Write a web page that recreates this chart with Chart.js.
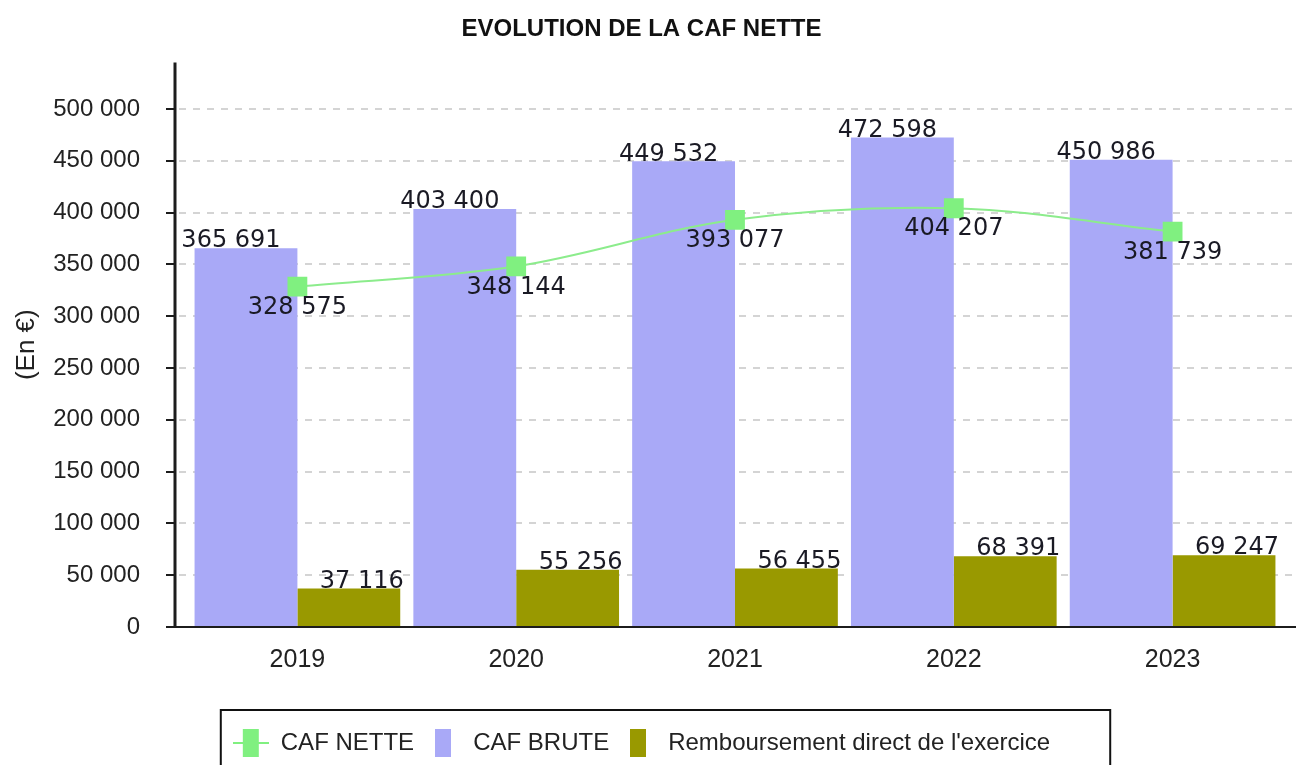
<!DOCTYPE html>
<html lang="fr">
<head>
<meta charset="UTF-8">
<title>Evolution de la CAF nette</title>
<script src="https://cdn.jsdelivr.net/npm/chart.js"></script>
<style>
  html, body { margin: 0; padding: 0; background: #fff; }
  #zone { width: 1296px; height: 765px; }
</style>
</head>
<body>
<div id="zone"><canvas id="graphique"></canvas></div>
<script>
// années (catégories)
const annees = ['2019', '2020', '2021', '2022', '2023'];
// CAF nette (courbe)
const cafNette = [328575, 348144, 393077, 404207, 381739];
// CAF brute (barres)
const cafBrute = [365691, 403400, 449532, 472598, 450986];
// remboursement direct de l'exercice (barres)
const remboursement = [37116, 55256, 56455, 68391, 69247];
// graduations de l'axe vertical
const graduations = [0, 50000, 100000, 150000, 200000, 250000, 300000, 350000, 400000, 450000, 500000];

const VERT = '#80f080';
const LAVANDE = '#a9a9f7';
const OLIVE = '#999900';

function formater(v) {
    return String(v).replace(/\B(?=(\d{3})+(?!\d))/g, ' ');
}

// petites images pour la légende
function icone(larg, haut, dessin) {
    const c = document.createElement('canvas');
    c.width = larg;
    c.height = haut;
    dessin(c.getContext('2d'));
    return c;
}
const icones = [
    icone(36, 28, function (g) {
        g.strokeStyle = VERT; g.lineWidth = 2;
        g.beginPath(); g.moveTo(0, 14); g.lineTo(36, 14); g.stroke();
        g.fillStyle = VERT; g.fillRect(10, 0, 16, 28);
    }),
    icone(16, 28, function (g) { g.fillStyle = LAVANDE; g.fillRect(0, 0, 16, 28); }),
    icone(16, 28, function (g) { g.fillStyle = OLIVE; g.fillRect(0, 0, 16, 28); })
];

// axes, graduations et grille pointillée
const axesEtGrille = {
    id: 'axesEtGrille',
    beforeDatasetsDraw(chart) {
        const { ctx, chartArea, scales: { y } } = chart;
        const x0 = chartArea.left - 13;
        ctx.save();
        ctx.strokeStyle = '#c6c6c6';
        ctx.lineWidth = 1.5;
        ctx.setLineDash([7, 7]);
        y.ticks.forEach(function (t) {
            if (t.value === 0) return;
            const py = Math.round(y.getPixelForValue(t.value));
            ctx.beginPath();
            ctx.moveTo(x0 + 4, py);
            ctx.lineTo(chart.width, py);
            ctx.stroke();
        });
        ctx.restore();
    },
    afterDatasetsDraw(chart) {
        const { ctx, chartArea, scales: { y } } = chart;
        const x0 = chartArea.left - 13;
        ctx.save();
        ctx.strokeStyle = '#1c1c1c';
        ctx.lineWidth = 2;
        y.ticks.forEach(function (t) {
            const py = Math.round(y.getPixelForValue(t.value));
            ctx.beginPath();
            ctx.moveTo(x0 - 9, py);
            ctx.lineTo(x0, py);
            ctx.stroke();
        });
        ctx.beginPath();
        ctx.moveTo(x0 - 9, chartArea.bottom);
        ctx.lineTo(chart.width, chartArea.bottom);
        ctx.stroke();
        ctx.lineWidth = 3;
        ctx.beginPath();
        ctx.moveTo(x0, chartArea.top);
        ctx.lineTo(x0, chartArea.bottom);
        ctx.stroke();
        ctx.restore();
    }
};

// étiquettes de valeurs
const etiquettes = {
    id: 'etiquettes',
    afterDatasetsDraw(chart) {
        const ctx = chart.ctx;
        ctx.save();
        ctx.font = '24px "DejaVu Sans"';
        ctx.fillStyle = '#1a1a24';
        ctx.textAlign = 'center';
        chart.data.datasets.forEach(function (ds, i) {
            const meta = chart.getDatasetMeta(i);
            meta.data.forEach(function (el, j) {
                const txt = formater(ds.data[j]);
                if (ds.type === 'line') {
                    ctx.textBaseline = 'top';
                    ctx.fillText(txt, el.x, el.y + 9);
                } else {
                    ctx.textBaseline = 'bottom';
                    const dx = i === 1 ? -15 : 13;
                    ctx.fillText(txt, el.x + dx, el.y + 5);
                }
            });
        });
        ctx.restore();
    }
};

// cadre autour de la légende
const cadreLegende = {
    id: 'cadreLegende',
    afterDraw(chart) {
        const lg = chart.legend;
        if (!lg || !lg.legendHitBoxes.length) return;
        const boites = lg.legendHitBoxes;
        const gauche = boites[0].left - 12;
        const droite = boites[boites.length - 1].left + boites[boites.length - 1].width + 60;
        const ctx = chart.ctx;
        ctx.save();
        ctx.strokeStyle = '#111';
        ctx.lineWidth = 2;
        ctx.strokeRect(gauche, lg.top - 10, droite - gauche, lg.height + 30);
        ctx.restore();
    }
};

Chart.defaults.font.family = '"Liberation Sans", Arial, sans-serif';
Chart.defaults.color = '#222';

new Chart(document.getElementById('graphique'), {
    data: {
        labels: annees,
        datasets: [
            {
                type: 'line',
                label: 'CAF NETTE',
                data: cafNette,
                borderColor: '#8cec8c',
                borderWidth: 2,
                tension: 0.35,
                pointStyle: 'rect',
                pointRadius: 14,
                pointBackgroundColor: VERT,
                pointBorderWidth: 0,
                order: 0
            },
            {
                type: 'bar',
                label: 'CAF BRUTE',
                data: cafBrute,
                backgroundColor: LAVANDE,
                categoryPercentage: 0.94,
                barPercentage: 1,
                order: 1
            },
            {
                type: 'bar',
                label: "Remboursement direct de l'exercice",
                data: remboursement,
                backgroundColor: OLIVE,
                categoryPercentage: 0.94,
                barPercentage: 1,
                order: 1
            }
        ]
    },
    options: {
        responsive: true,
        maintainAspectRatio: false,
        animation: false,
        layout: { padding: { left: 0, right: 13, top: 0, bottom: 0 } },
        plugins: {
            title: {
                display: true,
                text: 'EVOLUTION DE LA CAF NETTE',
                color: '#111',
                font: { size: 24, weight: 'bold' },
                padding: { top: 14, bottom: 19 }
            },
            legend: {
                position: 'bottom',
                labels: {
                    usePointStyle: true,
                    pointStyleWidth: 36,
                    padding: 11,
                    font: { size: 24 },
                    color: '#222',
                    generateLabels: function (chart) {
                        return chart.data.datasets.map(function (ds, i) {
                            return {
                                text: ds.label,
                                pointStyle: icones[i],
                                datasetIndex: i,
                                hidden: false,
                                lineWidth: 0,
                                fillStyle: 'transparent',
                                strokeStyle: 'transparent',
                                fontColor: '#222'
                            };
                        });
                    }
                }
            },
            tooltip: { enabled: false }
        },
        scales: {
            x: {
                grid: { display: false, drawTicks: false },
                border: { display: false },
                ticks: { font: { size: 25 }, padding: 18, color: '#222' },
                afterFit: function (s) { s.height = 93; }
            },
            y: {
                min: 0,
                max: 545000,
                grid: { display: false, drawTicks: false },
                border: { display: false },
                afterBuildTicks: function (s) {
                    s.ticks = graduations.map(function (v) { return { value: v }; });
                },
                ticks: {
                    font: { size: 24 },
                    padding: 48,
                    color: '#222',
                    callback: function (v) { return formater(v); }
                },
                title: {
                    display: true,
                    text: '(En €)',
                    font: { size: 26 },
                    color: '#222',
                    padding: { top: 11, bottom: 4 }
                },
                afterFit: function (s) { s.width = 188; }
            }
        }
    },
    plugins: [axesEtGrille, etiquettes, cadreLegende]
});
</script>
</body>
</html>
